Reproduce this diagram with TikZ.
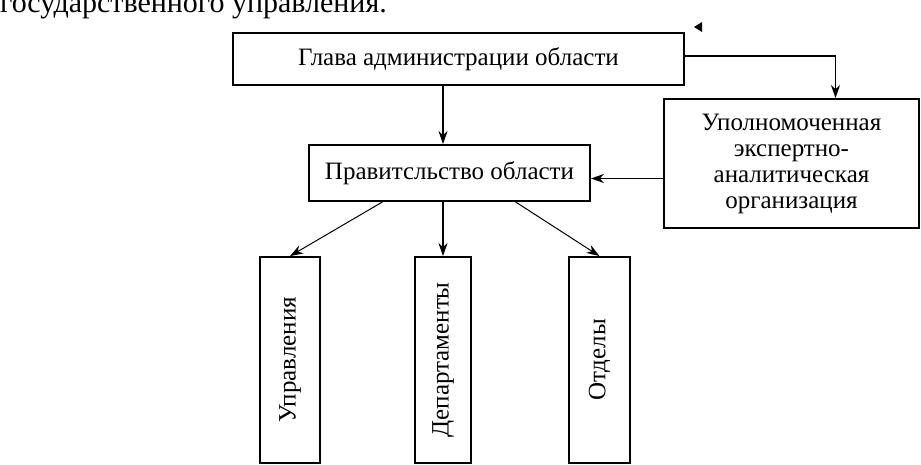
\documentclass[tikz,border=0pt]{standalone}
\usepackage{fontspec}
\setmainfont{Liberation Serif}
\usetikzlibrary{arrows.meta,calc}
\begin{document}
\begin{tikzpicture}[x=1pt,y=-1pt,>={Stealth[length=13pt,width=9pt,inset=4pt]},
  box/.style={draw,line width=1.8pt,inner sep=0pt,align=center,font=\fontsize{25}{26}\selectfont},
  link/.style={->,line width=1.3pt}]
\useasboundingbox (0,0) rectangle (921,465);
\node[anchor=base west,inner sep=0pt,font=\fontsize{30}{30}\selectfont] (head) at (0,13) {государственного управления.};
\node[box,minimum width=451,minimum height=52] (glava) at (458.5,59) {Глава администрации области};
\node[box,minimum width=281,minimum height=56] (prav) at (449.5,173) {Правитсльство области};
\node[box,minimum width=255,minimum height=129] (upol) at (791.5,163.5) {Уполномоченная\\экспертно-\\аналитическая\\организация};
\node[box,minimum width=60,minimum height=206] (upr) at (290,360) {\rotatebox{90}{Управления}};
\node[box,minimum width=56,minimum height=206] (dep) at (443,360) {\rotatebox{90}{Департаменты}};
\node[box,minimum width=61,minimum height=206] (otd) at (599.5,360) {\rotatebox{90}{Отделы}};
\draw[link] (glava.south -| dep.north) -- (prav.north -| dep.north);
\draw[link] ([yshift=3pt]glava.east) -| ([xshift=44pt]upol.north);
\draw[link] ([yshift=-15pt]upol.west) -- ([yshift=-15pt]upol.west -| prav.east);
\draw[link,line width=1pt] ($(prav.south)+(-67,0)$) -- (upr.north);
\draw[link] (prav.south -| dep.north) -- (dep.north);
\draw[link,line width=1pt] ($(prav.south)+(66,0)$) -- (otd.north);
\fill (694,27) -- (702,22) -- (702,32) -- cycle;
\end{tikzpicture}
\end{document}
